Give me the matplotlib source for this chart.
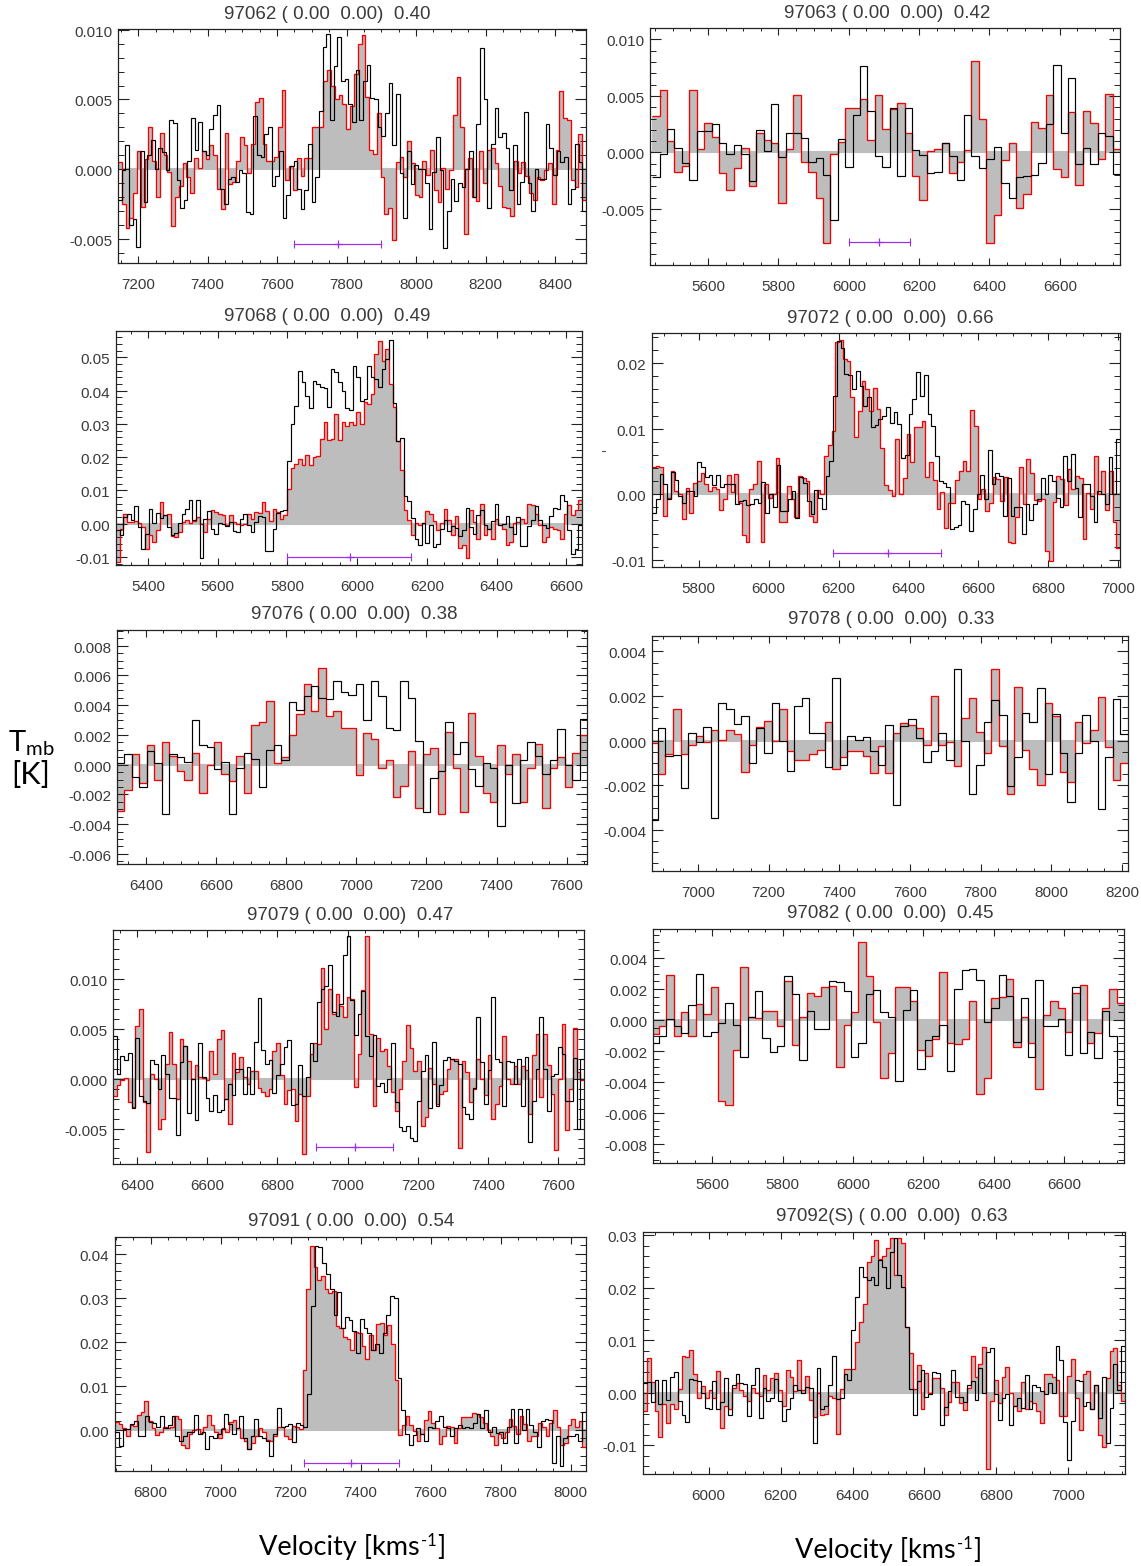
import numpy as np
import matplotlib
matplotlib.use("Agg")
import matplotlib.pyplot as plt
from matplotlib.ticker import MultipleLocator
from matplotlib.lines import Line2D
from matplotlib.transforms import ScaledTranslation

plt.rcParams['font.family'] = ['Liberation Sans', 'DejaVu Sans']
plt.rcParams['mathtext.default'] = 'regular'

W, H = 1141, 1566

# Spectra in mK, channel by channel
red_97062 = [0.5,-2.5,-4.2,-3.5,-1.7,1.3,-2.7,0.7,3.0,0.6,-2.0,2.6,1.0,-0.2,-4.1,-2.0,-1.2,0.4,-0.6,-1.7,0.8,0.1,1.3,0.7,1.7,1.0,-1.4,-2.9,2.6,-1.1,-0.9,0.6,2.3,1.7,-0.3,1.8,4.8,5.1,1.8,0.6,0.6,0.9,3.0,5.7,-0.8,0.2,-1.5,0.8,-0.5,0.8,0.8,3.0,3.0,3.05,6.3,7.1,6.0,5.0,5.3,4.7,2.9,4.5,6.8,9.0,9.6,5.2,1.4,1.1,4.0,-0.6,-3.2,-2.8,-5.1,0.5,0.9,-0.6,2.0,0.4,-1.9,-2.0,0.6,-0.4,1.4,-1.5,-2.4,0.1,-1.4,-0.1,3.9,6.6,3.0,-4.7,0.8,-2.0,-2.3,1.3,-1.0,1.4,1.5,0.4,-1.2,-2.7,-2.8,-3.4,0.6,-0.3,0.5,-0.5,-1.7,-2.2,-0.6,-0.8,-0.1,0.4,-2.5,1.4,5.6,3.7,3.5,-0.8,-1.3,2.5,-2.2]
black_97062 = [-2.2,-0.1,1.7,-4.0,-3.6,-5.6,1.3,-2.4,1.0,2.1,0.0,1.5,1.2,-0.1,3.5,3.3,-0.8,-2.8,-2.2,0.6,3.7,1.4,3.4,1.3,1.0,2.9,3.9,4.6,-1.4,-2.5,-0.7,-0.6,-0.9,-0.1,-0.3,-3.1,-3.2,3.8,1.0,0.9,2.5,3.0,-1.2,-0.5,1.3,-3.5,-1.9,0.2,0.6,-1.4,-2.9,-1.5,1.8,-2.4,-0.6,4.2,8.8,9.7,3.5,7.4,9.5,6.3,6.5,4.7,3.4,7.1,3.5,6.3,7.5,5.1,5.0,3.0,2.4,4.0,6.2,1.7,5.4,-0.3,-3.5,1.3,-1.1,0.3,0.0,0.0,-1.0,-4.3,-0.2,2.3,-0.1,-5.7,-3.0,-0.7,-2.3,-1.0,-1.3,0.0,1.3,-2.0,3.2,8.7,5.0,-2.8,1.8,4.4,2.3,2.6,1.5,-1.5,1.7,-2.5,-0.9,4.1,-1.0,-3.0,0.0,-0.7,-0.7,3.2,1.5,-0.4,1.3,0.5,0.9,-2.5,-1.4,1.8,0.5,-3.0]

red_97063 = [3.2,5.5,1.0,-1.7,-1.2,5.5,0.3,2.6,1.4,-1.8,-3.3,-1.4,0.4,-3.0,1.7,1.1,0.8,-4.5,0.3,5.1,-0.8,-1.7,-4.0,-8.0,-0.1,0.9,3.9,3.9,4.7,1.1,5.1,2.1,3.8,4.4,1.7,-2.1,-4.2,0.1,0.3,0.8,-1.8,-0.8,0.2,8.1,3.0,-8.0,-5.5,-0.7,0.8,-4.9,-3.7,2.7,2.2,5.1,-1.5,-2.2,3.6,-2.9,3.7,2.6,-0.6,5.2,0.3]
black_97063 = [-2.2,-0.1,2.1,0.4,-0.9,-2.4,1.9,1.9,2.5,0.8,-0.1,0.7,-0.1,-2.5,2.0,0.1,4.3,-0.4,1.7,1.7,1.3,-0.8,-0.5,-2.0,-6.0,1.2,-1.3,3.3,7.6,3.7,-0.3,-1.3,3.9,-2.1,3.9,0.2,-0.2,-1.8,-1.7,0.8,-0.3,-2.4,3.3,-0.3,-1.4,-0.6,0.5,-2.7,-4.0,-2.2,-2.1,-2.0,-0.9,2.5,7.7,1.7,6.6,-1.0,0.4,-1.0,1.7,1.5,-1.9]

red_97068 = [-11.5,-1.5,2.9,0.6,0.6,0.8,0.3,-1.0,-7.7,-3.3,-5.5,-2.0,6.5,2.5,3.0,-3.6,-4.0,-2.5,0.6,1.0,0.2,0.8,2.0,0.0,-2.5,1.5,4.0,3.5,3.0,2.5,-0.3,2.5,0.5,0.0,-0.3,0.0,3.0,1.5,3.5,3.3,6.5,3.8,0.8,4.5,3.5,1.5,2.5,
             10.5,16.8,18,19.5,17.5,20.5,17.5,20,20.3,25.5,30.5,25.3,25.5,33,25.3,30.5,29.5,30.5,29.8,33.5,30,36.5,36,39,51,55,49,52.5,42,35,25,16,4,
             1.2,-3.5,0.2,-0.5,0.3,3.8,2.8,0.8,-2.0,0.2,4.5,1.0,-3.5,2.3,-7.3,-6.5,-10.3,4.0,0.5,-4.5,6.0,-3.5,-1.5,-4.5,1.5,-0.5,-1.5,-6.3,-5.5,0.3,0.6,1.5,0.3,5.8,5.5,3.0,-0.5,-5.5,-4.0,-1.0,-1.5,-2.0,-4.5,3.0,5.5,2.5,4.0,7.0]
black_97068 = [-1.8,-3.3,2.0,3.0,1.0,5.3,-1.0,-7.7,-3.0,4.5,0.3,3.2,1.8,2.5,-1.0,-3.5,-2.8,0.3,3.0,4.5,7.0,1.2,7.2,-10.3,1.3,3.8,-1.5,-3.0,0.2,-0.2,-0.8,0.5,-2.3,-2.5,1.5,2.8,-0.5,-2.6,0.5,2.2,2.0,-8.2,-8.2,-1.5,3.3,3.8,4.2,
               18.7,30,35.3,46,42.5,38.5,34.8,43,42,41,40.7,35,46.5,45.5,42.5,40,34.7,34.3,47.3,44,37,37.5,47.5,44,43.5,41,46.5,49.5,55.3,36.3,25,25.8,8.3,6.8,
               1.8,-4.7,-6.3,0.3,-5.7,-0.5,-7.0,-6.0,-1.5,1.2,-2.2,-0.8,-1.2,-3.8,-2.0,4.7,-1.0,-3.2,2.5,4.2,-0.5,-1.5,0.8,6.0,-0.5,-0.2,2.2,-1.0,-3.0,2.0,-6.8,-6.8,-0.8,1.0,5.3,1.0,-0.5,-1.3,2.3,4.8,4.5,8.5,6.8,-2.0,-9.0,-7.5,-0.5]

red_97072 = [4.2,4.3,4.1,-3.3,-0.5,3.5,0.5,0.0,-3.8,1.0,-2.8,1.7,2.0,3.3,1.5,0.5,1.1,0.8,-2.4,-0.7,3.0,0.3,3.1,-1.4,-6.2,-7.3,0.8,1.6,5.0,-7.3,1.5,-0.5,0.0,5.6,-4.3,-4.3,1.3,-0.8,-3.4,2.8,2.5,2.0,-3.3,-4.2,0.7,0.0,5.9,7.5,9.7,23.3,23.5,20.7,20.3,14.8,8.8,12.7,17.3,16,12.7,16.2,13,7.0,1.4,0.7,-0.3,8.5,0.0,2.5,9.2,4.9,10.3,10.3,11.1,2.6,4.9,2.2,-2.2,0.4,-5.2,-1.4,-1.4,2.1,3.5,5.0,3.6,12.8,10.4,-0.8,0.8,-2.6,-1.4,2.7,2.3,-1.0,2.7,-7.3,-7.5,-3.5,4.2,-1.5,5.4,3.2,-0.9,-1.0,-0.7,-8.6,-10.2,-1.2,2.8,2.4,-1.6,3.8,0.8,2.8,2.5,-6.8,0.2,-2.3,5.8,0.0,3.5,-2.4,3.6,-4.3,-8.2]
black_97072 = [-2.9,-0.8,3.1,1.5,-0.8,3.4,2.1,-0.2,-1.3,0.5,0.5,-0.2,4.9,4.2,2.7,2.9,1.4,2.9,1.1,1.5,1.5,1.5,-1.5,-1.1,-0.9,-1.6,-1.5,-0.8,-1.3,1.8,-2.9,0.0,-2.0,4.4,-2.6,-2.6,-0.8,0.5,-3.6,2.7,1.7,-1.0,-3.0,0.6,-0.6,-2.2,2.8,5.0,15,23.4,22.3,18.3,18.2,16,18.8,16.5,13.5,14.8,10.2,10.5,11.5,12,13.3,10.8,12.5,10.7,5.5,6,12.2,14.5,18.7,15,18.2,12.2,10.4,5.8,2,1.7,1.1,-5.3,-5.0,-4.7,-1.0,-1.5,-5.6,-2.2,0.0,3.0,-0.8,6.8,1.5,3.3,2.8,-3.3,2.5,-3.3,-2.0,-2.0,-6.0,-1.5,-4.0,-1.5,-0.8,2.5,0.0,2.9,2.0,-0.5,-2.0,5.8,2.0,6.2,1.0,-3.4,1.5,1.5,-0.2,-4.2,0.5,0.1,-1.5,5.7,0.0,8.5]

red_97076 = [-3.1,-1.7,0.7,-1.2,1.3,-1.0,1.5,0.6,-0.4,-1.0,0.8,-1.9,0.0,1.5,-0.6,-1.1,0.6,-1.9,2.7,2.9,4.3,0.1,0.5,2.0,3.4,5.4,3.6,6.5,3.3,3.6,2.5,2.5,-0.7,2.1,1.7,-0.2,0.3,-2.2,-1.4,0.9,-2.9,0.7,1.1,-3.3,2.2,-0.2,-3.2,3.5,0.6,-1.9,-2.5,1.3,-0.6,0.7,-2.5,-0.2,1.4,-2.9,-0.2,0.5,-1.5,0.8,2.0]
black_97076 = [0.1,0.7,-0.8,-1.5,0.9,0.1,-3.3,0.7,0.5,0.2,3.0,1.3,1.2,-0.3,0.2,-3.3,-0.2,0.8,0.4,-1.5,1.0,1.3,0.3,4.2,3.7,4.6,5.3,4.5,4.4,5.6,4.9,4.7,5.4,3.0,5.6,4.6,2.5,2.3,5.6,4.5,1.6,-3.2,-0.9,-0.4,2.9,0.7,1.5,-0.3,-1.4,0.1,-0.2,-4.1,0.0,-2.6,0.3,1.5,0.6,-0.6,0.3,2.4,0.0,-1.0,3.1]

red_97078 = [-0.1,-1.5,-0.6,1.4,-0.6,-0.2,0.2,-0.05,0.5,0.05,0.5,0.3,-1.4,-0.2,0.6,0.9,0.0,1.4,-0.45,-0.85,-0.85,-0.6,-0.4,0.85,-1.25,-0.75,-0.45,-0.45,-0.7,-1.45,-0.25,-1.45,0.35,0.8,0.7,0.55,-0.2,2.0,-0.2,-0.05,-1.15,1.0,1.9,0.4,-0.55,3.2,-0.25,-2.4,2.4,-0.4,-1.25,-2.0,1.7,1.1,-1.4,-1.85,0.85,-0.1,0.5,1.95,-0.3,-1.75,-1.0]
black_97078 = [-3.55,0.55,-0.7,-0.65,-2.1,0.35,-0.05,0.6,-3.45,1.7,1.4,0.75,1.1,-1.0,0.55,-0.55,1.7,0.0,-1.35,1.55,1.9,0.35,0.35,-1.2,2.8,-1.1,0.2,0.05,0.15,-0.45,-1.1,0.7,-2.9,0.65,0.95,0.1,-0.95,-0.45,0.35,-0.85,3.2,0.0,-2.4,-1.1,0.85,1.8,1.15,-2.05,-0.75,1.25,0.85,2.35,-1.5,1.2,-0.55,-2.75,-0.55,1.15,0.0,-3.05,-0.75,1.85,0.3]

red_97079 = [-1.7,-0.6,-0.1,0.1,-2.3,-2.8,5.3,7.0,-2.3,-7.4,0.5,0.0,-5.0,-4.0,1.5,4.7,1.5,-2.0,4.0,3.3,1.8,0.0,1.4,0.2,0.1,-0.1,2.8,0.5,4.0,4.9,-2.0,-4.5,2.6,0.7,2.2,0.2,-0.5,0.8,0.8,-0.9,-1.3,-1.7,-1.0,2.8,3.6,0.4,-2.5,-1.1,-1.0,-4.2,-1.5,-7.6,-1.7,2.5,3.6,3.5,11.1,5.0,9.0,6.5,8.5,7.3,6.2,8.2,8.0,-0.8,2.5,8.9,14.3,4.5,-2.7,4.1,2.8,3.0,1.3,-1.3,-3.2,-1.0,1.8,5.4,3.1,0.8,1.8,-4.7,-3.8,1.1,-0.5,-2.5,-1.5,-1.2,1.0,2.0,2.0,-7.0,1.8,0.7,-2.3,-1.0,2.0,0.0,-1.6,2.4,-4.0,-2.5,-0.7,4.3,0.0,-0.5,1.3,-0.5,1.3,0.9,-3.5,2.4,4.5,-1.8,4.5,1.4,-1.5,-7.2,0.0,5.5,-5.1,-1.0,5.1,0.7,-0.1]
black_97079 = [4.3,0.5,2.3,1.9,2.6,-2.9,4.1,-1.7,-2.2,-2.4,1.9,1.5,-1.0,2.4,0.5,-1.9,-1.9,-5.6,1.7,3.3,-3.4,0.0,-4.1,3.6,0.2,-1.9,-3.2,-1.6,-3.3,-3.1,-2.0,-0.5,-1.6,1.0,1.0,-1.5,1.2,-1.5,3.7,8.1,2.9,1.5,1.9,-1.4,0.4,1.5,3.2,3.9,-2.6,-2.5,1.4,-1.7,0.2,3.6,1.8,7.7,9.0,9.3,11.4,6.7,6.3,7.5,12.4,14.3,7.9,4.4,6.5,8.8,4.3,2.3,4.4,-0.7,-0.4,-1.3,0.0,3.6,-2.3,-4.8,-5.2,-4.7,-5.9,-6.2,-2.2,0.8,2.4,-2.9,3.7,-2.7,-0.6,1.9,2.2,2.0,1.8,1.5,-2.8,-3.5,-4.0,-0.9,6.2,1.7,-2.5,0.9,8.2,2.0,1.7,-2.7,1.8,1.7,-0.5,2.0,-2.7,2.2,-6.3,-2.2,1.0,6.2,1.0,-3.2,0.3,0.5,3.2,2.5,-2.2,-2.2,2.1,-5.0,2.0]

red_97082 = [-0.9,-0.4,2.9,-1.05,0.5,-1.0,1.05,0.4,2.15,-5.2,-5.45,-1.9,3.45,0.2,0.15,0.6,0.6,-0.35,2.5,-1.6,0.2,1.75,1.55,2.15,2.2,-3.0,-0.3,0.55,5.05,2.85,-0.15,-3.75,-2.1,2.15,2.1,1.25,-1.9,-2.3,-1.2,3.1,-1.5,-1.55,-1.2,1.25,-4.75,-3.7,1.4,1.5,2.65,-1.75,0.2,-1.45,-4.45,0.3,1.2,0.8,-0.75,1.75,2.25,-1.5,-0.85,0.8,2.0,1.1]
black_97082 = [-1.45,-1.0,0.05,-0.4,-0.8,0.95,3.0,-1.0,-0.75,-0.2,1.1,-0.3,-2.4,0.2,1.9,-1.15,-2.05,-1.7,2.85,1.65,-2.55,0.6,-0.6,-0.55,2.5,2.45,1.85,-2.4,-1.5,1.7,1.95,0.5,0.2,-3.95,0.65,1.95,-3.15,-1.3,-1.0,-0.3,-3.25,2.0,3.25,3.3,2.6,-0.1,0.75,2.9,1.55,-1.4,1.45,-2.4,2.6,-0.4,-0.4,0.1,-2.25,2.1,-2.1,-0.75,-2.45,0.6,-1.0,-5.5]

red_97091 = [1.8,1.2,0.3,-1.5,1.0,0.8,3.3,4.0,6.5,2.0,0.3,-1.2,-0.5,0.7,0.3,0.5,3.0,2.5,-3.5,-4.2,-1.0,0.0,0.2,-0.8,0.5,3.3,1.0,-0.5,-2.0,0.3,-0.5,1.8,2.2,0.3,-2.0,-2.5,-4.5,-3.0,-1.5,0.3,-0.5,-2.3,-2.5,-1.5,0.5,0.5,-1.5,-2.2,0.8,0.5,0.2,
             13.5,32,41.8,37,34,35,32,31,31.5,23.5,23,21,20.7,18,22.3,22,19,16,21.5,18,24,24.3,21.5,23.7,19.5,11.3,
             -1.2,1.0,3.2,1.0,-0.3,-2.5,-1.0,2.2,4.2,1.5,0.3,-3.2,-1.5,0.8,0.5,-3.0,0.3,2.8,2.8,2.8,3.8,3.5,2.8,1.5,0.0,-1.5,-3.5,-1.0,-2.0,-0.5,2.5,0.8,-1.0,3.0,1.3,-2.5,-1.5,-1.5,1.5,0.5,-1.5,1.5,4.5,0.5,-3.5,-3.0,1.0,2.5,0.5,2.0,-4.0]
black_97091 = [-0.5,-3.8,0.2,0.2,1.3,2.0,-1.5,-1.5,3.2,1.8,1.5,0.5,3.0,0.3,1.0,3.2,-1.5,-2.5,-1.5,-0.5,-0.5,3.3,-1.0,-0.5,-4.3,-1.5,-2.0,-1.0,0.2,3.5,1.2,-1.0,0.3,3.0,-2.0,-4.5,-1.5,2.5,-1.5,-2.0,-2.5,-6.0,-1.0,5.0,0.5,0.8,1.2,-2.8,1.5,1.0,0.7,
               8.2,28,41.8,41.5,38,35.5,32,26,31.3,23,25.5,25,22.5,17.5,25.2,23,22,18,19.5,17.5,22,26,30.5,30,11.8,
               4.5,-1.0,-3.5,-1.2,0.3,-1.0,-2.5,0.5,0.3,2.0,3.0,0.5,0.3,-1.5,0.3,1.0,0.3,0.7,0.3,1.5,3.5,0.3,4.5,-0.5,0.5,-0.8,-0.5,-3.0,0.5,4.8,-3.0,4.8,0.0,4.8,1.0,-0.5,-4.0,2.0,2.5,2.2,-7.6,-1.5,-8.3,-1.8,-1.5,-1.5,-1.0,-2.5,4.0]

red_97092 = [-3.5,6.7,2.0,-3.5,-8.4,-2.2,-5.8,-2.2,-3.0,0.8,7.0,6.9,8.2,3.5,-1.0,1.3,-1.0,0.5,-1.0,4.2,-6.7,-2.5,-3.0,1.0,1.8,0.5,-0.5,-1.5,1.0,0.0,-0.5,3.4,0.5,2.9,3.8,0.5,-2.5,4.3,3.0,0.3,6.3,0.5,3.3,-1.3,-4.5,0.0,-4.3,-4.0,-0.5,-1.0,-7.8,0.8,4.5,4.5,4.5,
             9.6,13.5,17,24.8,26,29,25.5,26,27.5,29.5,22.5,29.5,28.5,12.5,7.5,
             0.8,5.3,-3.0,3.7,0.0,2.8,2.8,1.0,-4.2,-1.8,2.0,2.0,-2.0,-3.2,1.0,7.0,3.0,5.5,8.8,-14.4,-1.5,2.5,-2.0,3.0,5.0,0.0,-2.5,-3.5,2.0,-3.0,-1.5,-2.0,-3.5,-5.8,3.5,3.6,3.0,2.5,-4.4,-4.4,3.3,6.5,-1.0,-7.0,3.5,4.2,-3.0,1.5,-8.0,-10.2,2.8,8.0,8.5,1.5,-1.5]
black_97092 = [1.8,2.0,-1.8,2.5,-2.2,2.5,-1.3,3.0,4.0,-1.5,-4.2,-5.5,2.7,2.5,2.2,0.0,-2.8,-3.0,2.3,-3.0,-1.8,2.8,-4.2,1.5,3.6,1.9,1.7,-4.4,1.5,4.8,-4.7,1.0,-1.5,-1.0,2.7,-1.5,-5.3,-3.0,-1.0,1.5,0.5,0.0,1.2,1.0,-9.5,4.7,-3.0,-2.5,1.5,7.0,-1.2,-1.0,3.5,2.5,
               12,18.3,24,22,21.5,22,20.5,25.2,24,20,26.8,29.5,22.5,20.2,12.5,
               0.7,-4.2,2.3,4.4,-0.8,-0.3,4.0,3.8,-6.2,-2.7,0.3,4.4,-0.8,-0.8,-1.7,1.5,2.3,-1.3,4.7,-0.1,7.7,8.5,-0.2,-5.2,-1.0,-0.3,-6.2,-2.5,-1.0,-2.8,3.4,-3.0,1.5,1.2,0.3,-0.2,1.8,0.0,8.9,6.3,-5.5,-12.8,-5.3,2.5,2.2,-2.5,-1.8,-3.0,1.5,-4.7,3.0,-9.6,-2.8,5.5,0.5,9.0]

titles = ["97062 ( 0.00  0.00)  0.40", "97063 ( 0.00  0.00)  0.42",
          "97068 ( 0.00  0.00)  0.49", "97072 ( 0.00  0.00)  0.66",
          "97076 ( 0.00  0.00)  0.38", "97078 ( 0.00  0.00)  0.33",
          "97079 ( 0.00  0.00)  0.47", "97082 ( 0.00  0.00)  0.45",
          "97091 ( 0.00  0.00)  0.54", "97092(S) ( 0.00  0.00)  0.63"]
red_series = [red_97062, red_97063, red_97068, red_97072, red_97076,
              red_97078, red_97079, red_97082, red_97091, red_97092]
black_series = [black_97062, black_97063, black_97068, black_97072, black_97076,
                black_97078, black_97079, black_97082, black_97091, black_97092]

# velocity ranges of the panels and of the plotted channels
xlims = [(7142,8489),(5435,6771),(5308,6645),(5666,7005),(6318,7658),
         (6870,8217),(6331,7674),(5431,6770),(6698,8044),(5818,7157)]
chan_ranges = [(7142,8489),(5441,6771),(5308,6645),(5666,7005),(6318,7658),
               (6865,8217),(6331,7674),(5427,6770),(6698,8044),(5818,7157)]
# (lo, hi) in K
ylims = [(-0.00675,0.01006),(-0.00994,0.0110),(-0.0124,0.0579),(-0.0111,0.0246),
         (-0.00668,0.00906),(-0.00584,0.00469),(-0.00856,0.01495),(-0.00921,0.00587),
         (-0.0094,0.0438),(-0.01543,0.0306)]
ymajor = [0.005,0.005,0.01,0.01,0.002,0.002,0.005,0.002,0.01,0.01]
yminor = [0.001,0.001,0.002,0.002,0.0005,0.0005,0.001,0.0005,0.002,0.002]
yfmt = ["%.3f","%.3f","%.2f","%.2f","%.3f","%.3f","%.3f","%.3f","%.2f","%.2f"]
# line-width markers: (low, centre, high, level)
markers = [(7650,7775,7900,-0.00538),(6000,6087,6175,-0.0079),(5800,5978,6155,-0.0099),
           (6185,6340,6493,-0.00897),None,None,(6910,7020,7128,-0.00685),None,
           (7237,7373,7510,-0.00758),None]

# layout in pixels: left, right, top, bottom
boxes = [(118,586,29,263),(650,1120,28,265),(116,582,331,565),(652,1120,333,567),
         (117,587,630,864),(652,1128,636,871),(113,584,930,1164),(653,1124,929,1163),
         (115,586,1237,1471),(643,1125,1232,1474)]
title_xy = [(327,14.5),(887,13.5),(327,316.5),(890,318.5),(354,614.5),(891,619.5),(350,915.5),(890,913.5),(351,1221.5),(892,1216.5)]

GRAY = '#bdbdbd'
TXT = '#3a3a3a'
PURPLE = '#9a30e8'

fig = plt.figure(figsize=(W/100, H/100), dpi=100, facecolor='white')
label_shift = ScaledTranslation(0, -1.5/100, fig.dpi_scale_trans)

for i in range(10):
    l, r, t, b = boxes[i]
    ax = fig.add_axes([l/W, 1-b/H, (r-l)/W, (b-t)/H])
    red = np.array(red_series[i])/1000.0
    blk = np.array(black_series[i])/1000.0
    e_r = np.linspace(chan_ranges[i][0], chan_ranges[i][1], len(red)+1)
    e_b = np.linspace(chan_ranges[i][0], chan_ranges[i][1], len(blk)+1)
    ax.stairs(red, e_r, baseline=0, fill=True, color=GRAY, lw=0, zorder=1)
    ax.axhline(0, color=GRAY, lw=1.5, zorder=1)
    ax.stairs(red, e_r, baseline=None, color='#f50000', lw=0.95, zorder=2)
    ax.stairs(blk, e_b, baseline=None, color='black', lw=0.85, zorder=3)
    m = markers[i]
    if m is not None:
        ax.plot([m[0], m[2]], [m[3], m[3]], color=PURPLE, lw=0.9, zorder=4)
        ax.plot([m[0], m[2]], [m[3], m[3]], ls='none', marker='|', ms=6, mew=0.8, color=PURPLE, zorder=4)
        ax.plot([m[1]], [m[3]], ls='none', marker='+', ms=6, mew=0.9, color=PURPLE, zorder=4)
    ax.set_xlim(*xlims[i])
    ax.set_ylim(*ylims[i])
    ax.xaxis.set_major_locator(MultipleLocator(200))
    ax.xaxis.set_minor_locator(MultipleLocator(50))
    ax.yaxis.set_major_locator(MultipleLocator(ymajor[i]))
    ax.yaxis.set_minor_locator(MultipleLocator(yminor[i]))
    ax.yaxis.set_major_formatter(plt.FuncFormatter(lambda v, p, f=yfmt[i]: f % (0.0 if abs(v) < 1e-9 else v)))
    ax.tick_params(axis='x', which='major', direction='in', top=True, bottom=True, length=5, width=0.8, color='#222222', labelsize=11, labelcolor=TXT, pad=10.5)
    ax.tick_params(axis='x', which='minor', direction='in', top=True, bottom=True, length=2.5, width=0.7, color='#222222')
    ax.tick_params(axis='y', which='major', direction='in', left=True, right=True, length=8, width=0.8, color='#222222', labelsize=11, labelcolor=TXT, pad=4)
    ax.tick_params(axis='y', which='minor', direction='in', left=True, right=True, length=4, width=0.7, color='#222222')
    for lab in ax.get_yticklabels():
        lab.set_transform(lab.get_transform() + label_shift)
    for s in ax.spines.values():
        s.set_linewidth(0.9)
        s.set_color('#222222')
    fig.text(title_xy[i][0]/W, 1-title_xy[i][1]/H, titles[i], ha='center', va='center', fontsize=13.5, color=TXT)

LAB = ['Lato', 'DejaVu Sans']
renderer = fig.canvas.get_renderer()

def velocity_label(x_left, y_base):
    # "Velocity [kms" + raised short hyphen and 1 + "]", with a real hyphen
    t1 = fig.text(x_left/W, 1-y_base/H, 'Velocity [kms', ha='left', va='baseline', fontsize=19.5, family=LAB)
    x = t1.get_window_extent(renderer).x1 + 1
    t2 = fig.text(x/W, 1-(y_base-9)/H, '-1', ha='left', va='baseline', fontsize=12, family=LAB)
    x = t2.get_window_extent(renderer).x1 + 1
    fig.text(x/W, 1-y_base/H, ']', ha='left', va='baseline', fontsize=19.5, family=LAB)

velocity_label(259, 1555)
velocity_label(795, 1558)
fig.text(31/W, 1-743/H, r'T$_{\mathregular{mb}}$', ha='center', va='center', fontsize=21, family=LAB, color='black')
fig.text(31/W, 1-775/H, '[K]', ha='center', va='center', fontsize=22, family=LAB, color='black')
fig.add_artist(Line2D([602/W, 605/W], [1-451/H, 1-451/H], color='#555555', lw=0.8))

fig.savefig('out.png', dpi=100, facecolor='white')
